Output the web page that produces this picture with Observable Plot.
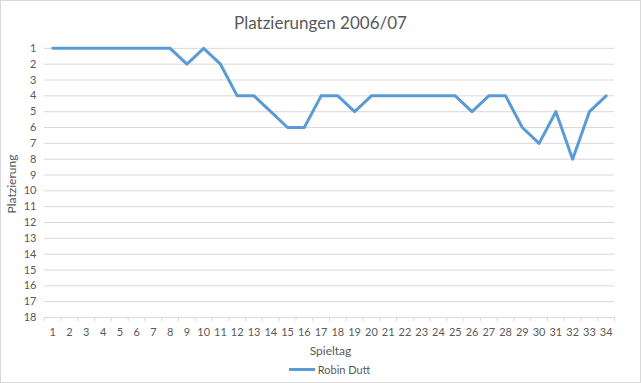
<!DOCTYPE html>
<html><head><meta charset="utf-8">
<script src="https://cdn.jsdelivr.net/npm/d3@7"></script>
<script src="https://cdn.jsdelivr.net/npm/@observablehq/plot@0.6"></script>
<style>
body{margin:0;background:#fff;}
#wrap{position:relative;width:639px;height:381px;border:1px solid #d9d9d9;font-family:Lato,"Open Sans",sans-serif;color:#595959;overflow:hidden;}
#wrap svg{position:absolute;left:-1px;top:-1px;}
.t{position:absolute;white-space:nowrap;}
</style></head><body>
<div id="wrap"></div>
<script>
const title = "Platzierungen 2006/07";
const xLabel = "Spieltag";
const yLabel = "Platzierung";
const seriesName = "Robin Dutt";
const spieltag = d3.range(1, 35);
const platz = [1,1,1,1,1,1,1,1,2,1,2,4,4,5,6,6,4,4,5,4,4,4,4,4,4,5,4,4,6,7,5,8,5,4];
const yTicks = d3.range(1, 19);
const data = spieltag.map((s, i) => ({s, p: platz[i]}));
const bounds = d3.range(0.5, 35, 1);
const color = "#5b9bd5";

const plot = Plot.plot({
  width: 641, height: 383,
  marginLeft: 44, marginRight: 25, marginTop: 48, marginBottom: 65,
  style: {fontFamily: "Lato, sans-serif", color: "#595959", background: "transparent"},
  x: {type: "linear", domain: [0.5, 34.5]},
  y: {domain: [1, 18], reverse: true},
  marks: [
    Plot.ruleY(yTicks, {stroke: "#d9d9d9", strokeWidth: 1}),
    Plot.axisY({ticks: yTicks, tickSize: 0, tickPadding: 8, fontSize: 11, label: null, fill: "#595959"}),
    Plot.axisX({ticks: bounds, tickSize: 4, tickFormat: () => "", stroke: "#d9d9d9", label: null}),
    Plot.axisX({ticks: spieltag, tickSize: 0, tickPadding: 11, fontSize: 11, label: null, fill: "#595959"}),
    Plot.line(data, {x: "s", y: "p", stroke: color, strokeWidth: 3, strokeLinejoin: "round"})
  ]
});
const wrap = document.getElementById("wrap");
wrap.appendChild(plot);

function addText(txt, css) {
  const d = document.createElement("div");
  d.className = "t"; d.textContent = txt;
  Object.assign(d.style, css);
  wrap.appendChild(d);
  return d;
}
addText(title, {left: "0", width: "100%", textAlign: "center", top: "11px", fontSize: "17px"});
addText(xLabel, {left: "0", width: "659px", textAlign: "center", top: "342px", fontSize: "12px"});
const yl = addText(yLabel, {left: "10px", top: "183px", fontSize: "12px", transform: "translate(-50%,-50%) rotate(-90deg)"});
const leg = document.createElement("div");
leg.className = "t";
Object.assign(leg.style, {left: "0", width: "100%", top: "360px", textAlign: "center", fontSize: "11px"});
leg.innerHTML = `<span style="display:inline-block;width:26px;height:3px;background:${color};vertical-align:middle;margin-right:3px;margin-left:18px"></span><span style="vertical-align:middle">${seriesName}</span>`;
wrap.appendChild(leg);
</script>
</body></html>
